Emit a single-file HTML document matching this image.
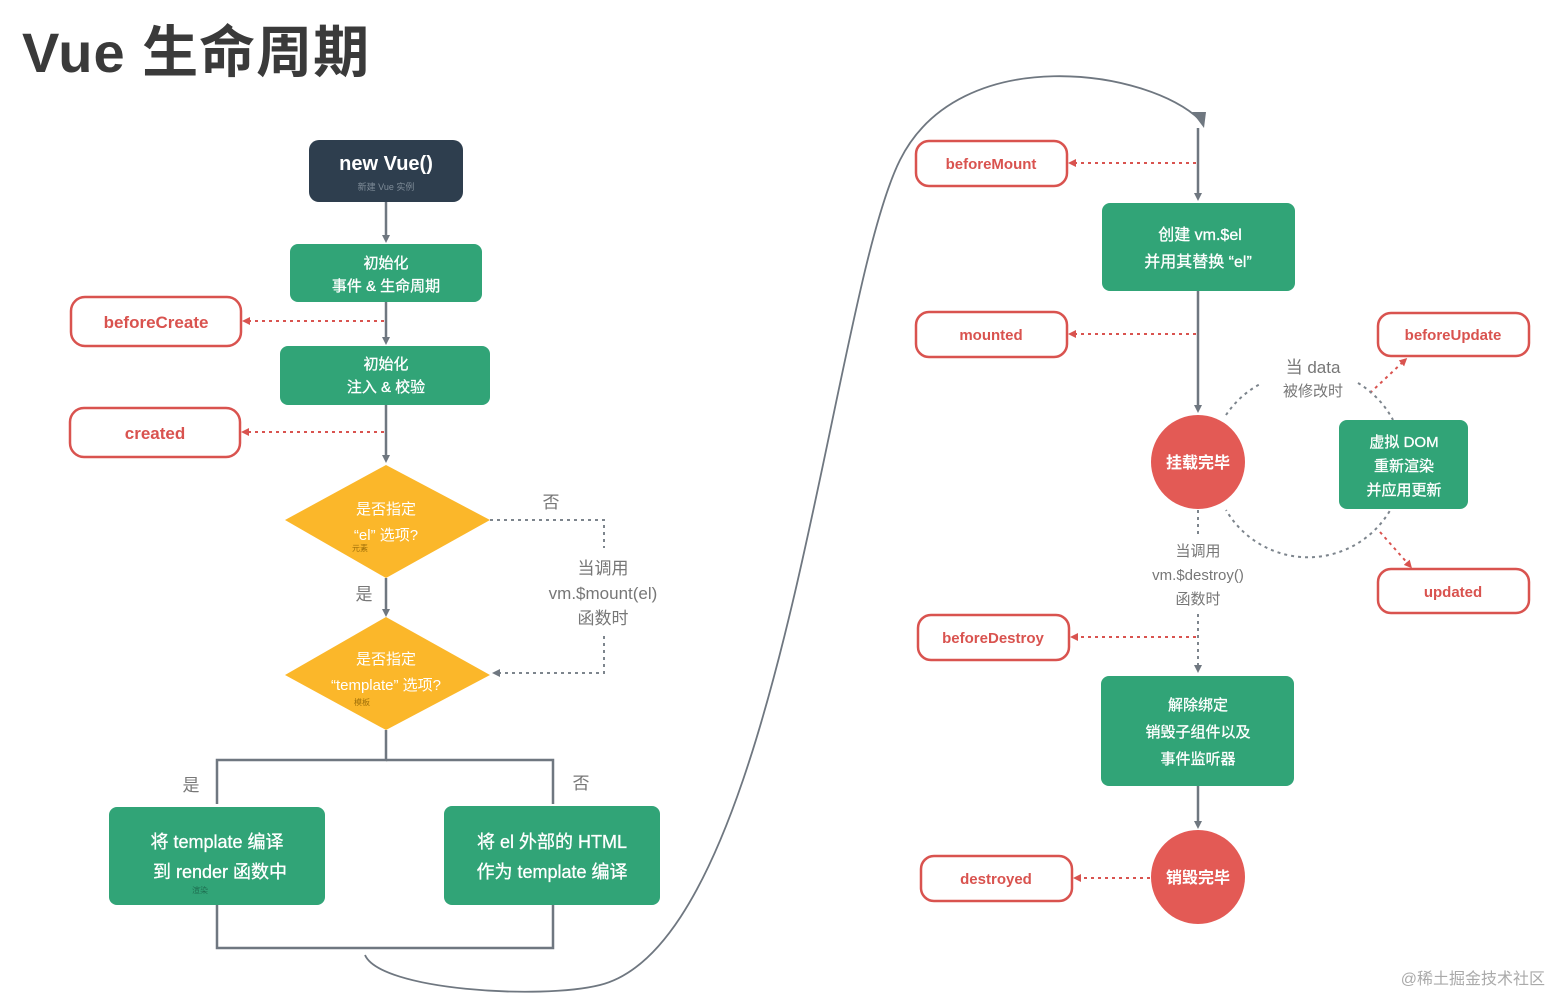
<!DOCTYPE html>
<html><head><meta charset="utf-8"><style>
html,body{margin:0;padding:0;background:#fff;}
svg{display:block;}
text{font-family:"Liberation Sans","Noto Sans CJK SC",sans-serif;}
</style></head><body>
<svg width="1553" height="994" viewBox="0 0 1553 994" xmlns="http://www.w3.org/2000/svg">
<defs>
<marker id="ag" markerWidth="10" markerHeight="10" refX="5" refY="5" orient="auto" markerUnits="userSpaceOnUse"><path d="M0,1 L8,5 L0,9 z" fill="#6f7780"/></marker>
<marker id="ar" markerWidth="10" markerHeight="10" refX="5" refY="5" orient="auto" markerUnits="userSpaceOnUse"><path d="M0,1 L8,5 L0,9 z" fill="#d9534f"/></marker>
</defs>
<rect width="1553" height="994" fill="#fff"/>
<text x="22" y="72" font-size="56" font-weight="bold" fill="#3a3a3a" letter-spacing="1">Vue 生命周期</text>

<g stroke="#6f7780" stroke-width="2.5" fill="none">
<line x1="386" y1="202" x2="386" y2="240" marker-end="url(#ag)"/>
<line x1="386" y1="302" x2="386" y2="342" marker-end="url(#ag)"/>
<line x1="386" y1="405" x2="386" y2="460" marker-end="url(#ag)"/>
<line x1="386" y1="578" x2="386" y2="614" marker-end="url(#ag)"/>
<polyline points="386,730 386,760 217,760 217,804"/>
<polyline points="386,760 553,760 553,804"/>
<polyline points="217,905 217,948 553,948 553,905"/>
<path d="M365,955 C380,990 540,1000 600,985 C780,940 830,300 900,160 C960,40 1150,70 1200,120" stroke-width="1.8"/>
<line x1="1198" y1="128" x2="1198" y2="198" marker-end="url(#ag)"/>
<line x1="1198" y1="290" x2="1198" y2="410" marker-end="url(#ag)"/>
<line x1="1198" y1="786" x2="1198" y2="826" marker-end="url(#ag)"/>
</g>
<path d="M1192,112 L1206,112 L1204,128 z" fill="#6f7780"/>

<g stroke="#d9534f" stroke-width="2" stroke-dasharray="3,4" fill="none">
<line x1="384" y1="321" x2="245" y2="321" marker-end="url(#ar)"/>
<line x1="384" y1="432" x2="244" y2="432" marker-end="url(#ar)"/>
<line x1="1196" y1="163" x2="1071" y2="163" marker-end="url(#ar)"/>
<line x1="1196" y1="334" x2="1071" y2="334" marker-end="url(#ar)"/>
<line x1="1196" y1="637" x2="1073" y2="637" marker-end="url(#ar)"/>
<line x1="1150" y1="878" x2="1076" y2="878" marker-end="url(#ar)"/>
<line x1="1370" y1="393" x2="1405" y2="360" marker-end="url(#ar)"/>
<line x1="1380" y1="532" x2="1410" y2="566" marker-end="url(#ar)"/>
</g>
<g stroke="#7d858d" stroke-width="2" stroke-dasharray="3,4" fill="none">
<polyline points="490,520 604,520 604,548"/>
<polyline points="604,636 604,673 495,673" marker-end="url(#ag)"/>
<line x1="1198" y1="510" x2="1198" y2="538"/>
<line x1="1198" y1="614" x2="1198" y2="670" marker-end="url(#ag)"/>
<path d="M1226,415 A95,95 0 0 1 1262,383"/>
<path d="M1358,383 A95,95 0 0 1 1393,420"/>
<path d="M1393,505 A95,95 0 0 1 1226,510"/>
</g>

<rect x="309" y="140" width="154" height="62" rx="10" fill="#2e3e4e"/>
<text x="386" y="170" font-size="20" font-weight="bold" fill="#fff" text-anchor="middle">new Vue()</text>
<text x="386" y="190" font-size="9" fill="#7f8c98" text-anchor="middle">新建 Vue 实例</text>

<g fill="#31a477">
<rect x="290" y="244" width="192" height="58" rx="8"/>
<rect x="280" y="346" width="210" height="59" rx="8"/>
<rect x="109" y="807" width="216" height="98" rx="8"/>
<rect x="444" y="806" width="216" height="99" rx="8"/>
<rect x="1102" y="203" width="193" height="88" rx="8"/>
<rect x="1339" y="420" width="129" height="89" rx="8"/>
<rect x="1101" y="676" width="193" height="110" rx="8"/>
</g>
<g fill="#fff" font-size="15" text-anchor="middle" stroke="#fff" stroke-width="0.3">
<text x="386" y="268">初始化</text><text x="386" y="291">事件 &amp; 生命周期</text>
<text x="386" y="369">初始化</text><text x="386" y="392">注入 &amp; 校验</text>
<text x="217" y="848" font-size="18">将 template 编译</text><text x="220" y="878" font-size="18">到 render 函数中</text>
<text x="552" y="848" font-size="18">将 el 外部的 HTML</text><text x="552" y="878" font-size="18">作为 template 编译</text>
<text x="1200" y="240" font-size="16">创建 vm.$el</text><text x="1198" y="267" font-size="16">并用其替换 “el”</text>
<text x="1404" y="447">虚拟 DOM</text><text x="1404" y="471">重新渲染</text><text x="1404" y="495">并应用更新</text>
<text x="1198" y="710">解除绑定</text><text x="1198" y="737">销毁子组件以及</text><text x="1198" y="764">事件监听器</text>
</g>
<text x="200" y="893" font-size="8" fill="#1e6e50" text-anchor="middle">渲染</text>

<g fill="#fbb72a">
<polygon points="386,465 490,520 386,578 285,520"/>
<polygon points="386,617 490,675 386,730 285,675"/>
</g>
<g fill="#fff" font-size="15" text-anchor="middle">
<text x="386" y="514">是否指定</text><text x="386" y="540">“el” 选项?</text>
<text x="386" y="664">是否指定</text><text x="386" y="690">“template” 选项?</text>
</g>
<text x="360" y="551" font-size="8" fill="#a0700a" text-anchor="middle">元素</text>
<text x="362" y="705" font-size="8" fill="#a0700a" text-anchor="middle">模板</text>

<g fill="#777" font-size="17" text-anchor="middle">
<text x="551" y="508">否</text>
<text x="364" y="600">是</text>
<text x="191" y="791">是</text>
<text x="581" y="789">否</text>
<text x="603" y="574">当调用</text><text x="603" y="599">vm.$mount(el)</text><text x="603" y="624">函数时</text>
<text x="1313" y="373">当 data</text><text x="1313" y="396" font-size="15">被修改时</text>
<text x="1198" y="556" font-size="15">当调用</text><text x="1198" y="580" font-size="15">vm.$destroy()</text><text x="1198" y="604" font-size="15">函数时</text>
</g>

<g fill="#e35a55">
<circle cx="1198" cy="462" r="47"/>
<circle cx="1198" cy="877" r="47"/>
</g>
<g fill="#fff" font-size="16" font-weight="bold" text-anchor="middle">
<text x="1198" y="468">挂载完毕</text><text x="1198" y="883">销毁完毕</text>
</g>

<g fill="#fff" stroke="#d9534f" stroke-width="2.5">
<rect x="71" y="297" width="170" height="49" rx="14"/>
<rect x="70" y="408" width="170" height="49" rx="14"/>
<rect x="916" y="141" width="151" height="45" rx="13"/>
<rect x="916" y="312" width="151" height="45" rx="13"/>
<rect x="918" y="615" width="151" height="45" rx="13"/>
<rect x="921" y="856" width="151" height="45" rx="13"/>
<rect x="1378" y="313" width="151" height="43" rx="13"/>
<rect x="1378" y="569" width="151" height="44" rx="13"/>
</g>
<g fill="#d9534f" font-weight="bold" text-anchor="middle">
<text x="156" y="328" font-size="17">beforeCreate</text>
<text x="155" y="439" font-size="17">created</text>
<text x="991" y="169" font-size="15">beforeMount</text>
<text x="991" y="340" font-size="15">mounted</text>
<text x="993" y="643" font-size="15">beforeDestroy</text>
<text x="996" y="884" font-size="15">destroyed</text>
<text x="1453" y="340" font-size="15">beforeUpdate</text>
<text x="1453" y="597" font-size="15">updated</text>
</g>
<text x="1545" y="984" font-size="16" fill="#aaa" text-anchor="end">@稀土掘金技术社区</text>
</svg>
</body></html>
